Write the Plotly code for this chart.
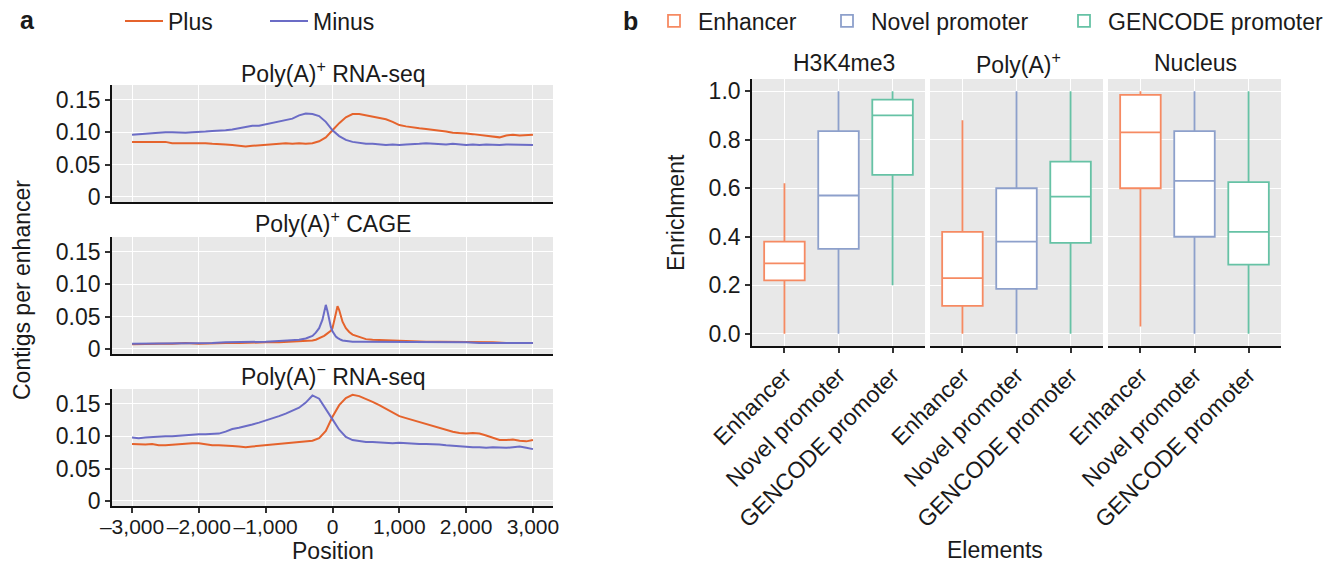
import plotly.graph_objects as go

# ---------------- panel a: strand-specific contig profiles ----------------
position = list(range(-3000, 3001, 100))

# Poly(A)+ RNA-seq
rnaseq_plus = [
    0.085, 0.085, 0.084, 0.085, 0.084, 0.085, 0.083, 0.083, 0.084, 0.083,
    0.083, 0.083, 0.082, 0.082, 0.081, 0.080, 0.079, 0.078, 0.079, 0.080,
    0.081, 0.082, 0.082, 0.083, 0.082, 0.083, 0.082, 0.083, 0.086, 0.092,
    0.103, 0.114, 0.123, 0.128, 0.128, 0.126, 0.124, 0.122, 0.120, 0.116,
    0.111, 0.109, 0.107, 0.106, 0.105, 0.104, 0.103, 0.101, 0.099, 0.099,
    0.098, 0.097, 0.096, 0.095, 0.093, 0.092, 0.095, 0.096, 0.095, 0.095,
    0.096,
]
rnaseq_minus = [
    0.096, 0.097, 0.098, 0.099, 0.099, 0.100, 0.100, 0.099, 0.099, 0.100,
    0.100, 0.101, 0.102, 0.102, 0.103, 0.104, 0.106, 0.107, 0.110, 0.110,
    0.112, 0.115, 0.116, 0.118, 0.121, 0.126, 0.129, 0.128, 0.125, 0.116,
    0.103, 0.094, 0.088, 0.085, 0.083, 0.082, 0.082, 0.081, 0.080, 0.081,
    0.080, 0.081, 0.081, 0.082, 0.083, 0.082, 0.082, 0.081, 0.082, 0.081,
    0.080, 0.081, 0.080, 0.081, 0.080, 0.080, 0.081, 0.081, 0.080, 0.080,
    0.080,
]

# Poly(A)+ CAGE (denser sampling around the TSS peaks)
position_cage = [
    -3000, -2800, -2600, -2400, -2200, -2000, -1800, -1600, -1400, -1200,
    -1000, -800, -600, -500, -400, -300, -250, -200, -150, -125,
    -100, -75, -50, -25, 0, 25, 50, 75, 100, 125,
    150, 200, 250, 300, 400, 500, 600, 800, 1000, 1200,
    1400, 1600, 1800, 2000, 2200, 2400, 2600, 2800, 3000,
]
cage_plus = [
    0.007, 0.008, 0.008, 0.008, 0.009, 0.008, 0.009, 0.009, 0.009, 0.010,
    0.010, 0.010, 0.011, 0.011, 0.012, 0.013, 0.014, 0.016, 0.018, 0.020,
    0.022, 0.024, 0.026, 0.028, 0.032, 0.042, 0.056, 0.066, 0.060, 0.050,
    0.042, 0.032, 0.026, 0.022, 0.018, 0.015, 0.014, 0.013, 0.012, 0.012,
    0.011, 0.011, 0.011, 0.010, 0.010, 0.010, 0.009, 0.009, 0.009,
]
cage_minus = [
    0.008, 0.008, 0.008, 0.009, 0.008, 0.009, 0.009, 0.010, 0.010, 0.010,
    0.011, 0.012, 0.013, 0.014, 0.016, 0.020, 0.025, 0.032, 0.045, 0.055,
    0.068, 0.058, 0.045, 0.034, 0.027, 0.022, 0.019, 0.017, 0.015, 0.014,
    0.013, 0.012, 0.012, 0.011, 0.011, 0.011, 0.011, 0.011, 0.011, 0.010,
    0.010, 0.010, 0.010, 0.010, 0.009, 0.009, 0.009, 0.009, 0.009,
]

# Poly(A)- RNA-seq
polya_neg_plus = [
    0.088, 0.087, 0.087, 0.088, 0.086, 0.086, 0.087, 0.088, 0.088, 0.089,
    0.089, 0.087, 0.086, 0.086, 0.086, 0.085, 0.084, 0.083, 0.084, 0.085,
    0.086, 0.087, 0.088, 0.088, 0.090, 0.091, 0.091, 0.093, 0.097, 0.108,
    0.130, 0.148, 0.159, 0.164, 0.162, 0.158, 0.153, 0.148, 0.142, 0.136,
    0.131, 0.128, 0.125, 0.121, 0.118, 0.115, 0.112, 0.109, 0.107, 0.105,
    0.104, 0.105, 0.104, 0.101, 0.097, 0.094, 0.094, 0.095, 0.093, 0.092,
    0.094,
]
polya_neg_minus = [
    0.098, 0.097, 0.098, 0.099, 0.099, 0.100, 0.100, 0.101, 0.102, 0.102,
    0.103, 0.103, 0.103, 0.104, 0.107, 0.111, 0.113, 0.115, 0.118, 0.121,
    0.124, 0.127, 0.131, 0.135, 0.140, 0.144, 0.152, 0.163, 0.158, 0.143,
    0.126, 0.110, 0.099, 0.094, 0.092, 0.091, 0.091, 0.090, 0.090, 0.089,
    0.090, 0.089, 0.089, 0.088, 0.088, 0.088, 0.087, 0.086, 0.085, 0.084,
    0.083, 0.083, 0.083, 0.082, 0.083, 0.082, 0.082, 0.083, 0.084, 0.082,
    0.080,
]

a_titles = ["Poly(A)<sup>+</sup> RNA-seq", "Poly(A)<sup>+</sup> CAGE",
            "Poly(A)<sup>\u2212</sup> RNA-seq"]
a_xtick_vals = [-3000, -2000, -1000, 0, 1000, 2000, 3000]
a_xtick_text = ["\u20133,000", "\u20132,000", "\u20131,000", "0",
                "1,000", "2,000", "3,000"]
a_ytick_vals = [0, 0.05, 0.10, 0.15]
a_ytick_text = ["0", "0.05", "0.10", "0.15"]

# ---------------- panel b: enrichment box plots ----------------
facets = ["H3K4me3", "Poly(A)<sup>+</sup>", "Nucleus"]
elements = ["Enhancer", "Novel promoter", "GENCODE promoter"]
# rows: facets, columns: elements
lower_whisker = [[0.00, 0.00, 0.20], [0.00, 0.00, 0.00], [0.03, 0.00, 0.00]]
q1 = [[0.22, 0.35, 0.655], [0.115, 0.185, 0.375], [0.60, 0.40, 0.285]]
median = [[0.29, 0.57, 0.90], [0.23, 0.38, 0.565], [0.83, 0.63, 0.42]]
q3 = [[0.38, 0.835, 0.965], [0.42, 0.60, 0.71], [0.985, 0.835, 0.625]]
upper_whisker = [[0.62, 1.00, 1.00], [0.88, 1.00, 1.00], [1.00, 1.00, 1.00]]
b_ytick_vals = [0.0, 0.2, 0.4, 0.6, 0.8, 1.0]
b_ytick_text = ["0.0", "0.2", "0.4", "0.6", "0.8", "1.0"]

# ---------------- styling ----------------
W, H = 1329, 566
FONT = "Liberation Sans, Arial, sans-serif"
FS = 23
INK = "#1a1a1a"
PANEL_BG = "#E8E8E8"
PLUS_COLOR = "#E5632C"
MINUS_COLOR = "#6B6CC6"
ELEMENT_COLORS = ["#F68A62", "#8DA0CB", "#66C2A5"]


def fx(px):
    return px / W


def fy(px):
    return 1 - px / H


fig = go.Figure()

# line panels
a_series = [
    (position, rnaseq_plus, rnaseq_minus),
    (position_cage, cage_plus, cage_minus),
    (position, polya_neg_plus, polya_neg_minus),
]
for i, (xs, plus, minus) in enumerate(a_series):
    ax = "" if i == 0 else str(i + 1)
    fig.add_trace(go.Scatter(
        x=xs, y=plus, mode="lines", name="Plus",
        line=dict(color=PLUS_COLOR, width=2),
        xaxis="x" + ax, yaxis="y" + ax,
        showlegend=(i == 0), legend="legend", legendgroup="plus"))
    fig.add_trace(go.Scatter(
        x=xs, y=minus, mode="lines", name="Minus",
        line=dict(color=MINUS_COLOR, width=2),
        xaxis="x" + ax, yaxis="y" + ax,
        showlegend=(i == 0), legend="legend2", legendgroup="minus"))

# box plot facets, one legend per element
element_legends = ["legend3", "legend4", "legend5"]
for f in range(3):
    ax = str(f + 4)
    for e, el in enumerate(elements):
        fig.add_trace(go.Box(
            x=[el], q1=[q1[f][e]], median=[median[f][e]], q3=[q3[f][e]],
            lowerfence=[lower_whisker[f][e]], upperfence=[upper_whisker[f][e]],
            name=el, boxpoints=False, whiskerwidth=0, width=0.75,
            fillcolor="white", line=dict(color=ELEMENT_COLORS[e], width=1.8),
            xaxis="x" + ax, yaxis="y" + ax,
            showlegend=(f == 0), legend=element_legends[e], legendgroup=el,
            hoverinfo="skip"))

tick_font = dict(family=FONT, size=FS, color=INK)


def legend_at(x_px, y_px):
    return dict(orientation="h", x=fx(x_px), y=fy(y_px), xanchor="left",
                yanchor="middle", font=dict(family=FONT, size=FS, color=INK),
                bgcolor="rgba(0,0,0,0)", borderwidth=0, itemwidth=38)


layout = dict(
    width=W, height=H,
    margin=dict(l=0, r=0, t=0, b=0, pad=0, autoexpand=False),
    paper_bgcolor="white", plot_bgcolor=PANEL_BG,
    font=dict(family=FONT, size=FS, color=INK),
    showlegend=True,
    legend=legend_at(120, 21),
    legend2=legend_at(265, 21),
    legend3=legend_at(650, 21),
    legend4=legend_at(823, 21),
    legend5=legend_at(1060, 21),
)

a_y_bounds = [(85, 202), (237, 354), (389, 506)]
for i, (top, bottom) in enumerate(a_y_bounds):
    key = "" if i == 0 else str(i + 1)
    last = i == 2
    layout["xaxis" + key] = dict(
        domain=[fx(112), fx(553)], anchor="y" + key,
        range=[-3300, 3300], tickvals=a_xtick_vals, ticktext=a_xtick_text,
        showticklabels=last, ticks="outside" if last else "", tickangle=0,
        ticklen=5, tickwidth=1.5, tickcolor="#333333",
        showline=True, linecolor="#111111", linewidth=1.6,
        showgrid=True, gridcolor="white", gridwidth=1.3,
        zeroline=False, tickfont=dict(family=FONT, size=21, color=INK),
        ticklabelstandoff=-4, automargin=False,
    )
    layout["yaxis" + key] = dict(
        domain=[fy(bottom), fy(top)], anchor="x" + key,
        range=[-0.008, 0.173], tickvals=a_ytick_vals, ticktext=a_ytick_text,
        ticks="outside", ticklen=5, tickwidth=1.5, tickcolor="#333333",
        showline=True, linecolor="#111111", linewidth=1.6,
        showgrid=True, gridcolor="white", gridwidth=1.3,
        zeroline=False, tickfont=tick_font, automargin=False,
    )

b_x_bounds = [(752, 925), (930, 1103), (1108, 1281)]
for f, (left, right) in enumerate(b_x_bounds):
    key = str(f + 4)
    layout["xaxis" + key] = dict(
        domain=[fx(left), fx(right)], anchor="y" + key,
        type="category", categoryorder="array", categoryarray=elements,
        range=[-0.6, 2.6], tickangle=-45,
        ticks="outside", ticklen=5, tickwidth=1.5, tickcolor="#333333",
        showline=True, linecolor="#111111", linewidth=1.6,
        showgrid=True, gridcolor="white", gridwidth=1.3,
        zeroline=False, tickfont=tick_font, automargin=False,
    )
    layout["yaxis" + key] = dict(
        domain=[fy(346), fy(79)], anchor="x" + key,
        range=[-0.05, 1.05], tickvals=b_ytick_vals, ticktext=b_ytick_text,
        showticklabels=(f == 0), ticks="outside" if f == 0 else "",
        ticklen=5, tickwidth=1.5, tickcolor="#333333",
        showline=(f == 0), linecolor="#111111", linewidth=1.6,
        showgrid=True, gridcolor="white", gridwidth=1.3,
        zeroline=False, tickfont=tick_font, automargin=False,
    )

fig.update_layout(**layout)


def label(text, x, y, size=FS, angle=0, bold=False):
    fig.add_annotation(
        text=f"<b>{text}</b>" if bold else text,
        x=fx(x), y=fy(y), xref="paper", yref="paper",
        xanchor="center", yanchor="middle", showarrow=False,
        textangle=angle, font=dict(family=FONT, size=size, color=INK))


label("a", 27, 20, size=25, bold=True)
label("b", 630, 21, size=25, bold=True)
for title, yc in zip(a_titles, [72, 222, 375]):
    label(title, 333, yc)
label("Contigs per enhancer", 22, 290, angle=-90)
label("Position", 333, 551)
for facet, xc in zip(facets, [844, 1018, 1195]):
    label(facet, xc, 63)
label("Enrichment", 676, 213, angle=-90)
label("Elements", 995, 550)

fig.write_html("out.html")
